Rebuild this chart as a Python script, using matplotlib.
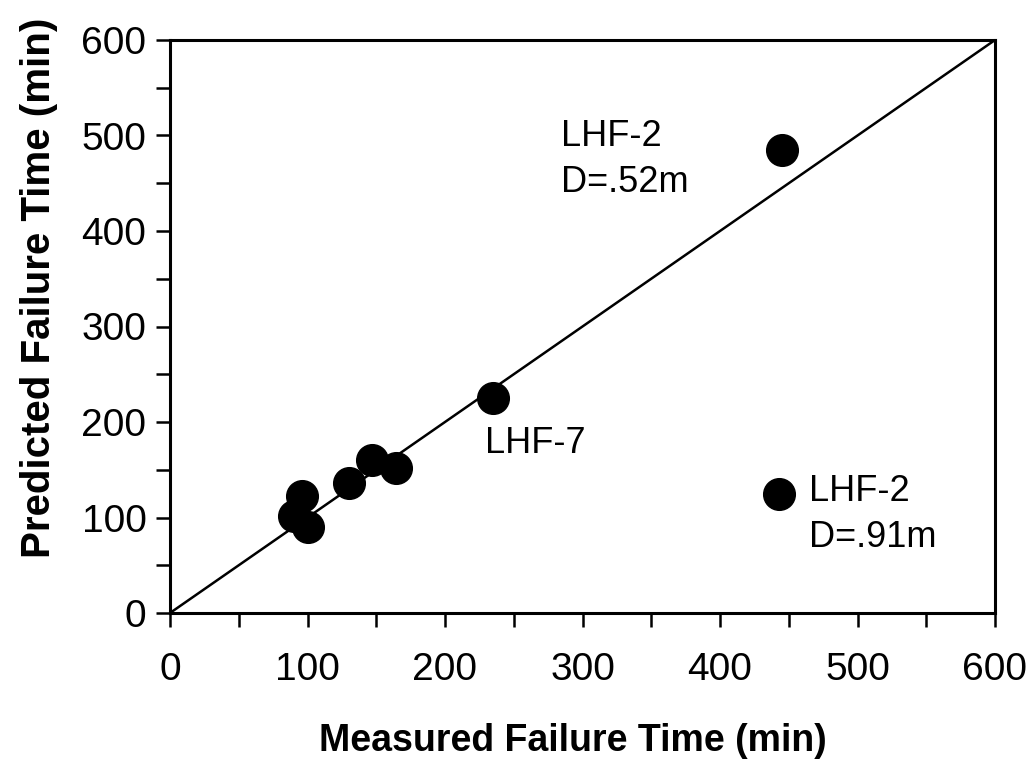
import matplotlib
matplotlib.use("Agg")
import matplotlib.pyplot as plt
from matplotlib.ticker import MultipleLocator

plt.rcParams['font.family'] = ['Liberation Sans', 'DejaVu Sans']

measured = [96, 90, 100, 130, 147, 164, 235, 445, 443]
predicted = [122, 102, 90, 136, 160, 152, 225, 485, 125]
line_x = [0, 600]
line_y = [0, 600]
xticks = [0, 100, 200, 300, 400, 500, 600]
yticks = [0, 100, 200, 300, 400, 500, 600]

fig = plt.figure(figsize=(10.26, 7.69), dpi=100)
ax = fig.add_axes([170/1026, 1-613/769, 825/1026, 573/769])

ax.plot(line_x, line_y, color='black', lw=1.8, zorder=2)
ax.scatter(measured, predicted, s=520, color='black', zorder=3)

ax.text(284, 475, "LHF-2\nD=.52m", fontsize=26, va='center', ha='left', linespacing=1.4)
ax.text(229, 178, "LHF-7", fontsize=26, va='center', ha='left')
ax.text(465, 103, "LHF-2\nD=.91m", fontsize=26, va='center', ha='left', linespacing=1.4)

ax.set_xlim(0, 600)
ax.set_ylim(0, 600)
ax.set_xticks(xticks)
ax.set_yticks(yticks)
ax.xaxis.set_minor_locator(MultipleLocator(50))
ax.yaxis.set_minor_locator(MultipleLocator(50))
ax.tick_params(which='both', direction='out', length=10, width=1.8, labelsize=28)
ax.tick_params(axis='x', pad=18)
ax.tick_params(axis='y', pad=7)
for s in ax.spines.values():
    s.set_linewidth(2.2)

ax.set_xlabel("Measured Failure Time (min)", fontsize=27, fontweight='bold', labelpad=25)
ax.set_ylabel("Predicted Failure Time (min)", fontsize=29, fontweight='bold', labelpad=17)
ax.xaxis.label.set_x(0.488)
ax.yaxis.label.set_y(0.567)

fig.savefig("out.png", dpi=100)
